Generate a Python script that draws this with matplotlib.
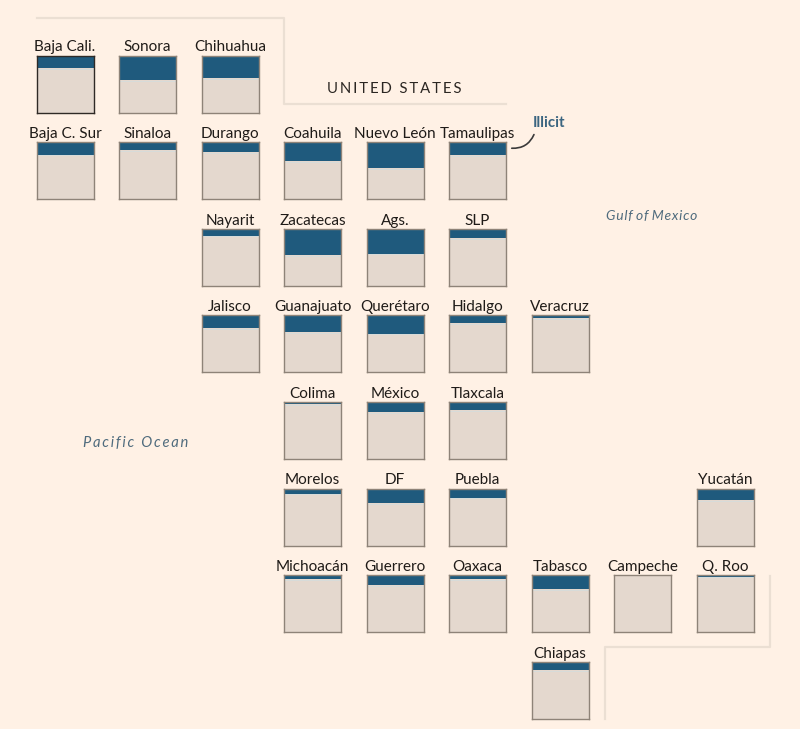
import matplotlib
matplotlib.use('Agg')
import matplotlib.pyplot as plt

plt.rcParams['font.family'] = ['Lato', 'DejaVu Sans']

# tile grid, row by row
row_0 = ['Baja Cali.', 'Sonora', 'Chihuahua']
row_1 = ['Baja C. Sur', 'Sinaloa', 'Durango', 'Coahuila', 'Nuevo León', 'Tamaulipas']
row_2 = ['Nayarit', 'Zacatecas', 'Ags.', 'SLP']
row_3 = ['Jalisco', 'Guanajuato', 'Querétaro', 'Hidalgo', 'Veracruz']
row_4 = ['Colima', 'México', 'Tlaxcala']
row_5 = ['Morelos', 'DF', 'Puebla', 'Yucatán']
row_6 = ['Michoacán', 'Guerrero', 'Oaxaca', 'Tabasco', 'Campeche', 'Q. Roo']
row_7 = ['Chiapas']

# share illicit, %
illicit_0 = [22, 43, 40]
illicit_1 = [22, 14, 17.5, 33, 46, 23]
illicit_2 = [12, 47, 44, 16]
illicit_3 = [23, 30, 32, 14, 5]
illicit_4 = [4, 18, 14]
illicit_5 = [9, 26, 16, 21]
illicit_6 = [7, 18, 7, 25, 0, 3]
illicit_7 = [15]

# which column each tile sits in
cols_0 = [0, 1, 2]
cols_1 = [0, 1, 2, 3, 4, 5]
cols_2 = [2, 3, 4, 5]
cols_3 = [2, 3, 4, 5, 6]
cols_4 = [3, 4, 5]
cols_5 = [3, 4, 5, 8]
cols_6 = [3, 4, 5, 6, 7, 8]
cols_7 = [6]

rows = [row_0, row_1, row_2, row_3, row_4, row_5, row_6, row_7]
illicit = [illicit_0, illicit_1, illicit_2, illicit_3, illicit_4, illicit_5, illicit_6, illicit_7]
cols = [cols_0, cols_1, cols_2, cols_3, cols_4, cols_5, cols_6, cols_7]

W, H = 800, 729
BG = '#fff1e5'
DARK = '#1f5a7d'
LIGHT = '#e4d8ce'
EDGE = '#8e8378'
LINE = '#ebdfd3'
SEA = '#4f6b7d'

fig = plt.figure(figsize=(W / 100, H / 100), dpi=100, facecolor=BG)

# background axes in pixels, for borders and loose labels
bg = fig.add_axes([0, 0, 1, 1])
bg.set_xlim(0, W)
bg.set_ylim(H, 0)
bg.axis('off')

bg.plot([37, 284, 284, 506], [18, 18, 104, 104], color=LINE, lw=1.6)
bg.plot([770, 770, 605, 605], [576, 647, 647, 719], color=LINE, lw=1.6)

THIN = '\u2009'
bg.text(394.5, 89, THIN.join('UNITED') + '  ' + THIN.join('STATES'), ha='center', va='center',
        fontsize=10.7, color='#2b2622')
bg.text(652, 216, '\u200a'.join('Gulf') + ' ' + '\u200a'.join('of') + ' ' + '\u200a'.join('Mexico'),
        ha='center', va='center', fontsize=10, style='italic', color=SEA)
bg.text(136, 443, THIN.join('Pacific') + '  ' + THIN.join('Ocean'), ha='center', va='center',
        fontsize=10.6, style='italic', color=SEA)
bg.text(533, 122.5, 'Illicit', ha='left', va='center', fontsize=10.8, fontweight='bold',
        color='#3b6580')
bg.annotate('', xy=(509, 148), xytext=(535, 132),
            arrowprops=dict(arrowstyle='-', color='#3a3a3a', lw=1.2,
                            connectionstyle='arc3,rad=-0.4'))

for r in range(len(rows)):
    for name, value, c in zip(rows[r], illicit[r], cols[r]):
        x0 = 36.6 + c * 82.5
        y0 = 55.5 + r * 86.6
        ax = fig.add_axes([x0 / W, 1 - (y0 + 57) / H, 57 / W, 57 / H], facecolor=LIGHT)
        ax.bar([0], [value], width=1, color=DARK, linewidth=0)
        if value > 0:
            ax.axhline(value + 1.2, color='#d5dcdc', lw=0.6)
        ax.set_xlim(-0.5, 0.5)
        ax.set_ylim(100, 0)
        ax.set_xticks([])
        ax.set_yticks([])
        for s in ax.spines.values():
            s.set_color('#2f2a26' if name == 'Baja Cali.' else EDGE)
            s.set_linewidth(1.0)
        ax.set_title(name, fontsize=11, color='#1f1b18', pad=3)

fig.savefig('out.png', dpi=100, facecolor=BG)
